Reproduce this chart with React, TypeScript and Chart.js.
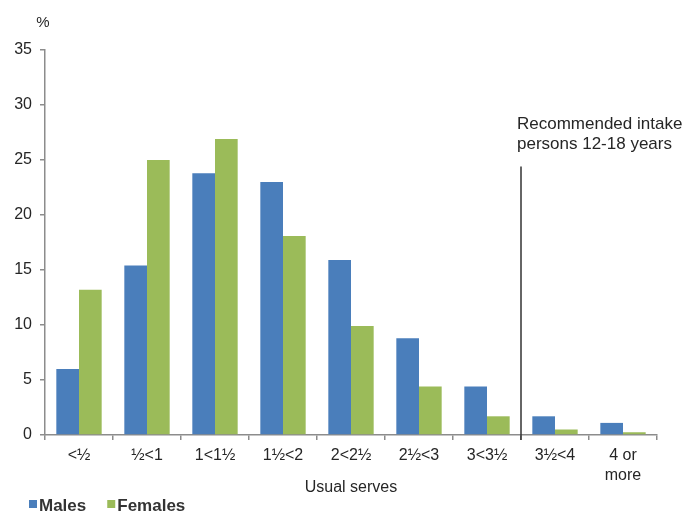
import React, { useEffect, useRef } from "react";
import { Chart, registerables } from "chart.js";

Chart.register(...registerables);

const categories: (string | string[])[] = ["<½", "½<1", "1<1½", "1½<2", "2<2½", "2½<3", "3<3½", "3½<4", ["4 or", "more"]];
const males = [6.0, 15.4, 23.8, 23.0, 15.9, 8.8, 4.4, 1.7, 1.1];
const females = [13.2, 25.0, 26.9, 18.1, 9.9, 4.4, 1.7, 0.5, 0.25];
const seriesNames = ["Males", "Females"];
const yMin = 0;
const yMax = 35;
const yStep = 5;
const yUnit = "%";
const xTitle = "Usual serves";
const recommendationAfterIndex = 6; // line between 3<3½ and 3½<4
const recommendationTopValue = 24.4;
const recommendationText = ["Recommended intake", "persons 12-18 years"];

const FONT = "'Liberation Sans', Arial, sans-serif";
const TEXT = "#262626";
const AXIS = "#8c8c8c";
const BLUE = "#4A7EBB";
const GREEN = "#9BBB59";

const extrasPlugin = {
  id: "extras",
  afterDraw(chart: any) {
    const ctx = chart.ctx as CanvasRenderingContext2D;
    const x = chart.scales.x;
    const y = chart.scales.y;
    ctx.save();
    // unit label
    ctx.fillStyle = TEXT;
    ctx.font = `15px ${FONT}`;
    ctx.textAlign = "center";
    ctx.textBaseline = "middle";
    ctx.fillText(yUnit, 43, 23);

    // recommendation line
    const lx = (x.getPixelForValue(recommendationAfterIndex) + x.getPixelForValue(recommendationAfterIndex + 1)) / 2;
    const top = y.getPixelForValue(recommendationTopValue);
    ctx.strokeStyle = "#333333";
    ctx.lineWidth = 1.5;
    ctx.beginPath();
    ctx.moveTo(lx, top);
    ctx.lineTo(lx, y.getPixelForValue(0) + 5);
    ctx.stroke();

    ctx.font = `17px ${FONT}`;
    ctx.textAlign = "left";
    ctx.textBaseline = "alphabetic";
    ctx.fillStyle = TEXT;
    recommendationText.forEach((t, i) => {
      ctx.fillText(t, lx - 4, top - 38 + i * 20);
    });

    // legend
    const colors = [BLUE, GREEN];
    let lgx = 29;
    ctx.font = `bold 17px ${FONT}`;
    seriesNames.forEach((name, i) => {
      ctx.fillStyle = colors[i];
      ctx.fillRect(lgx, 500, 8, 8);
      ctx.fillStyle = "#333333";
      ctx.fillText(name, lgx + 10, 511);
      lgx += 10 + ctx.measureText(name).width + 21;
    });
    ctx.restore();
  },
};

export default function App() {
  const ref = useRef<HTMLCanvasElement>(null);
  useEffect(() => {
    if (!ref.current) return;
    const chart = new Chart(ref.current, {
      type: "bar",
      data: {
        labels: categories as any,
        datasets: [
          { label: seriesNames[0], data: males, backgroundColor: BLUE, barPercentage: 1, categoryPercentage: 0.667 },
          { label: seriesNames[1], data: females, backgroundColor: GREEN, barPercentage: 1, categoryPercentage: 0.667 },
        ],
      },
      options: {
        animation: false,
        responsive: false,
        maintainAspectRatio: false,
        layout: { padding: { left: 0, right: 36, top: 50, bottom: 0 } },
        plugins: { legend: { display: false }, tooltip: { enabled: false } },
        scales: {
          x: {
            afterFit: (s: any) => {
              s.height = 77;
            },
            border: { color: AXIS, width: 1.5 },
            grid: { drawOnChartArea: false, drawTicks: true, tickLength: 5, color: AXIS, lineWidth: 1.5, offset: true },
            ticks: { color: TEXT, font: { family: FONT, size: 16, lineHeight: 1.25 }, padding: 6, maxRotation: 0, autoSkip: false },
            title: { display: true, text: xTitle, color: TEXT, font: { family: FONT, size: 16 }, padding: { top: 0, bottom: 15 } },
          },
          y: {
            min: yMin,
            max: yMax,
            afterFit: (s: any) => {
              s.width = 45;
            },
            border: { color: AXIS, width: 1.5 },
            grid: { drawOnChartArea: false, drawTicks: true, tickLength: 5, color: AXIS, lineWidth: 1.5 },
            ticks: { stepSize: yStep, color: TEXT, font: { family: FONT, size: 16 }, padding: 8 },
          },
        },
      },
      plugins: [extrasPlugin],
    });
    return () => chart.destroy();
  }, []);
  return (
    <div style={{ position: "fixed", left: 0, top: 0, width: 693, height: 512, background: "#fff" }}>
      <canvas ref={ref} width={693} height={512} style={{ display: "block" }} />
    </div>
  );
}
